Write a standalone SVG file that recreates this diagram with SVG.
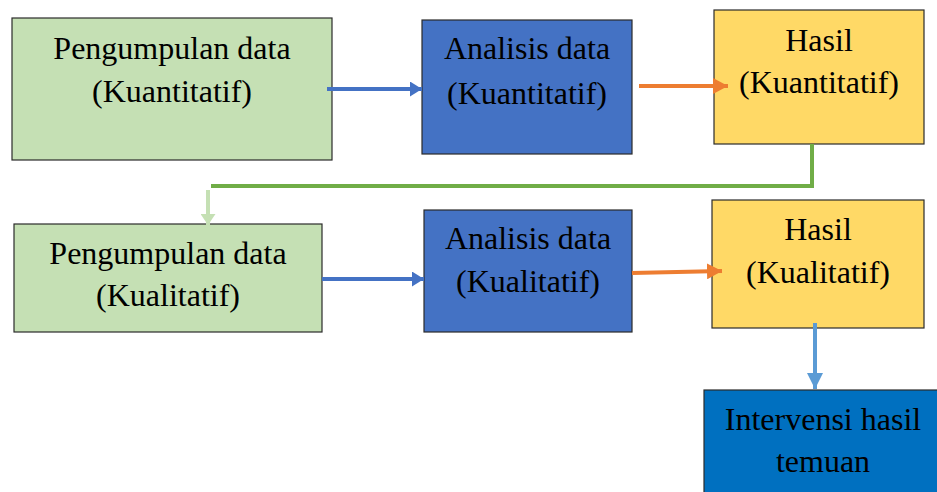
<svg xmlns="http://www.w3.org/2000/svg" width="937" height="492" viewBox="0 0 937 492">
<style>
.box{stroke:#2b2b2b;stroke-width:1.2}
.g{fill:#C5E0B4}.b{fill:#4472C4}.y{fill:#FFD966}.d{fill:#0070C0}
text{font-family:"Liberation Serif","Times New Roman",serif;font-size:32px;fill:#000;text-anchor:middle}
.c{fill:none;stroke-width:4}
</style>
<defs>
<marker id="ab" markerWidth="12" markerHeight="15" refX="12" refY="7.5" orient="auto" markerUnits="userSpaceOnUse" viewBox="0 0 12 15"><path d="M0,0 L12,7.5 L0,15 z" fill="#4472C4"/></marker>
<marker id="ao" markerWidth="15" markerHeight="16" refX="15" refY="8" orient="auto" markerUnits="userSpaceOnUse" viewBox="0 0 15 16"><path d="M0,0 L15,8 L0,16 z" fill="#ED7D31"/></marker>
<marker id="ag" markerWidth="11" markerHeight="15" refX="11" refY="7.5" orient="auto" markerUnits="userSpaceOnUse" viewBox="0 0 11 15"><path d="M0,0 L11,7.5 L0,15 z" fill="#C5E0B4"/></marker>
<marker id="al" markerWidth="16" markerHeight="16" refX="16" refY="8" orient="auto" markerUnits="userSpaceOnUse" viewBox="0 0 16 16"><path d="M0,0 L16,8 L0,16 z" fill="#5B9BD5"/></marker>
</defs>
<g id="n1"><rect class="box g" x="12" y="18" width="320" height="142"/><text x="172" y="59">Pengumpulan data</text><text x="172" y="102">(Kuantitatif)</text></g>
<g id="n2"><rect class="box b" x="422" y="20" width="210" height="134"/><text x="527" y="59">Analisis data</text><text x="527" y="104">(Kuantitatif)</text></g>
<g id="n3"><rect class="box y" x="714" y="10" width="210" height="134"/><text x="819" y="51">Hasil</text><text x="819" y="93">(Kuantitatif)</text></g>
<g id="n4"><rect class="box g" x="14" y="224" width="308" height="108"/><text x="168" y="264">Pengumpulan data</text><text x="168" y="306">(Kualitatif)</text></g>
<g id="n5"><rect class="box b" x="424" y="210" width="208" height="122"/><text x="528" y="249">Analisis data</text><text x="528" y="292">(Kualitatif)</text></g>
<g id="n6"><rect class="box y" x="712" y="200" width="212" height="128"/><text x="818" y="240">Hasil</text><text x="818" y="283">(Kualitatif)</text></g>
<g id="n7"><rect class="box d" x="704" y="390" width="240" height="110"/><text x="823" y="430">Intervensi hasil</text><text x="823" y="472">temuan</text></g>
<g id="connectors">
<path class="c" d="M327,89 L422,89" stroke="#4472C4" marker-end="url(#ab)"/>
<path class="c" d="M639,86 L728,86" stroke="#ED7D31" marker-end="url(#ao)"/>
<path class="c" d="M812,144 L812,186 L211,186" stroke="#70AD47"/>
<path class="c" d="M208,190 L208,225" stroke="#C5E0B4" stroke-width="5" marker-end="url(#ag)"/>
<path class="c" d="M322,279 L424,279" stroke="#4472C4" marker-end="url(#ab)"/>
<path class="c" d="M632,273 L722,271" stroke="#ED7D31" marker-end="url(#ao)"/>
<path class="c" d="M815,323 L815,389" stroke="#5B9BD5" marker-end="url(#al)"/>
</g>
</svg>
